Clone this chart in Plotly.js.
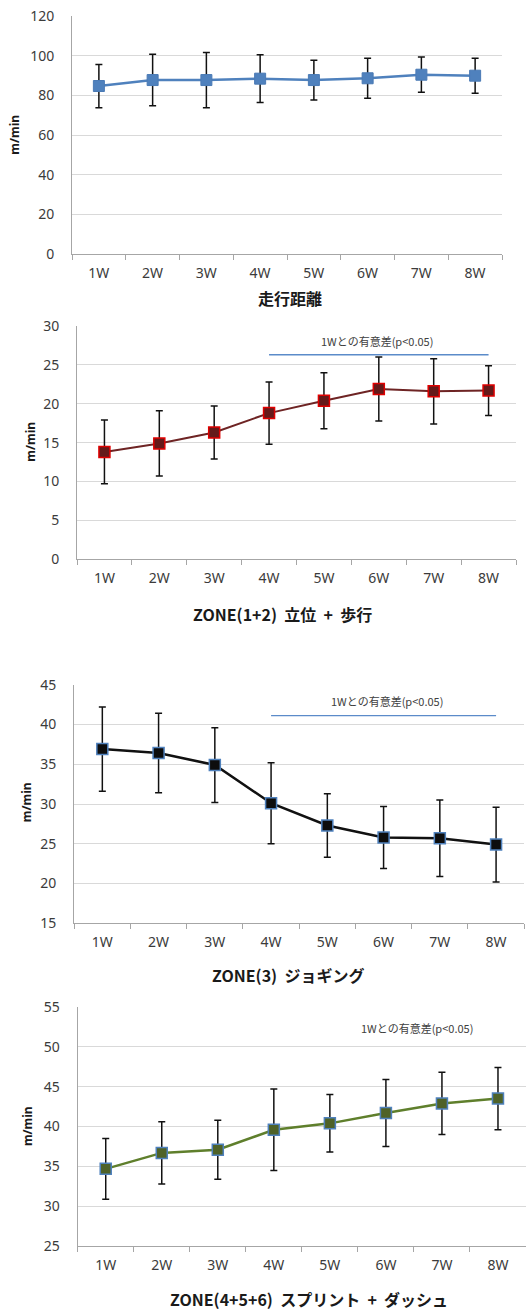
<!DOCTYPE html>
<html>
<head>
<meta charset="utf-8">
<script src="https://cdn.plot.ly/plotly-3.0.1.min.js"></script>
<style>
  html, body { margin: 0; padding: 0; background: #ffffff; }
  #chart { width: 531px; height: 1313px; }
</style>
</head>
<body>
<div id="chart"></div>
<script>
// ---------------- data ----------------
const weeks = ['1W', '2W', '3W', '4W', '5W', '6W', '7W', '8W'];

const distMean = [84.7, 87.7, 87.7, 88.4, 87.7, 88.6, 90.4, 89.9];
const distSD   = [10.9, 13.0, 13.9, 12.0, 10.0, 10.1, 8.9, 8.8];

const zone12Mean = [13.8, 14.9, 16.3, 18.8, 20.4, 21.9, 21.6, 21.7];
const zone12SD   = [4.1, 4.2, 3.4, 4.0, 3.6, 4.1, 4.2, 3.2];

const zone3Mean = [36.9, 36.4, 34.9, 30.1, 27.3, 25.8, 25.7, 24.9];
const zone3SD   = [5.3, 5.0, 4.7, 5.1, 4.0, 3.9, 4.8, 4.7];

const zone456Mean = [34.7, 36.7, 37.1, 39.6, 40.4, 41.7, 42.9, 43.5];
const zone456SD   = [3.8, 3.9, 3.7, 5.1, 3.6, 4.2, 3.9, 3.9];

const sigWeeks = ['4W', '8W'];
const sigZone12 = [26.3, 26.3];
const sigZone3 = [41.1, 41.1];
const sigLabel = '1Wとの有意差(p<0.05)';

const titles = ['走行距離', 'ZONE(1+2)  立位  +  歩行', 'ZONE(3)  ジョギング', 'ZONE(4+5+6)  スプリント  +  ダッシュ'];
const yTitle = 'm/min';

// ---------------- layout helpers ----------------
const W = 531, H = 1313;
const px = x => x / W;
const py = y => 1 - y / H;

const tickFont = { family: 'Noto Sans, Open Sans, sans-serif', size: 14, color: '#3b3b3b' };
const titleFont = { family: 'Noto Sans CJK JP, Noto Sans, sans-serif', size: 16, color: '#1a1a1a' };

function xax(l, r, anchor) {
  return {
    domain: [px(l), px(r)], anchor: anchor, type: 'category',
    range: [-0.5, 7.5], showgrid: false, zeroline: false,
    showline: true, linecolor: '#a6a6a6', linewidth: 1,
    ticks: 'outside', tickson: 'boundaries', ticklen: 5, tickcolor: '#a6a6a6', tickwidth: 1,
    ticklabelstandoff: 6, tickfont: tickFont, fixedrange: true
  };
}
function yax(top, bottom, anchor, range, dtick) {
  return {
    domain: [py(bottom), py(top)], anchor: anchor, range: range, dtick: dtick,
    showgrid: true, gridcolor: '#d9d9d9', gridwidth: 1, zeroline: false,
    showline: true, linecolor: '#a6a6a6', linewidth: 1, ticks: '',
    ticklabelstandoff: 14, tickfont: tickFont, fixedrange: true
  };
}

const errStyle = arr => ({ type: 'data', array: arr, visible: true, color: '#111111', thickness: 1.5, width: 3.5 });

const traces = [
  { x: weeks, y: distMean, xaxis: 'x', yaxis: 'y', type: 'scatter', mode: 'lines+markers',
    line: { color: '#4f81bd', width: 2.5 },
    marker: { symbol: 'square', size: 11, color: '#4f81bd', line: { color: '#4a7ab5', width: 1 } },
    error_y: errStyle(distSD) },

  { x: weeks, y: zone12Mean, xaxis: 'x2', yaxis: 'y2', type: 'scatter', mode: 'lines+markers',
    line: { color: '#6e2424', width: 2 },
    marker: { symbol: 'square', size: 11, color: '#651a1a', line: { color: '#e00000', width: 1.5 } },
    error_y: errStyle(zone12SD) },
  { x: sigWeeks, y: sigZone12, xaxis: 'x2', yaxis: 'y2', type: 'scatter', mode: 'lines',
    line: { color: '#5b8bc9', width: 1.3 }, hoverinfo: 'skip' },

  { x: weeks, y: zone3Mean, xaxis: 'x3', yaxis: 'y3', type: 'scatter', mode: 'lines+markers',
    line: { color: '#111111', width: 2.5 },
    marker: { symbol: 'square', size: 11, color: '#0d0d0d', line: { color: '#4f81bd', width: 1.5 } },
    error_y: errStyle(zone3SD) },
  { x: sigWeeks, y: sigZone3, xaxis: 'x3', yaxis: 'y3', type: 'scatter', mode: 'lines',
    line: { color: '#5b8bc9', width: 1.3 }, hoverinfo: 'skip' },

  { x: weeks, y: zone456Mean, xaxis: 'x4', yaxis: 'y4', type: 'scatter', mode: 'lines+markers',
    line: { color: '#5f7f2c', width: 2.5 },
    marker: { symbol: 'square', size: 11, color: '#4f6228', line: { color: '#4f81bd', width: 1.5 } },
    error_y: errStyle(zone456SD) }
];

const layout = {
  width: W, height: H,
  margin: { l: 0, r: 0, t: 0, b: 0 },
  paper_bgcolor: '#ffffff', plot_bgcolor: '#ffffff',
  showlegend: false,
  xaxis:  xax(72, 502, 'y'),
  yaxis:  yax(16, 254, 'x', [0, 120], 20),
  xaxis2: xax(77, 516, 'y2'),
  yaxis2: yax(326, 559.3, 'x2', [0, 30], 5),
  xaxis3: xax(74.2, 524.2, 'y3'),
  yaxis3: yax(684.7, 923.3, 'x3', [15, 45], 5),
  xaxis4: xax(77.7, 526, 'y4'),
  yaxis4: yax(1006.8, 1246.3, 'x4', [25, 55], 5),
  annotations: []
};

// x-axis titles (below each panel)
const xTitlePos = [[290, 298], [282.5, 614], [288, 975], [309, 1299]];
xTitlePos.forEach((p, i) => {
  layout.annotations.push({
    text: '<b>' + titles[i].replace(/ /g, '\u00a0') + '</b>', xref: 'paper', yref: 'paper',
    x: px(p[0]), y: py(p[1]), xanchor: 'center', yanchor: 'middle',
    showarrow: false, font: titleFont
  });
});

// y-axis titles
const yTitlePos = [[15, 134.7], [31, 441.7], [26.7, 802.5], [28.3, 1125.8]];
yTitlePos.forEach(p => {
  layout.annotations.push({
    text: '<b>' + yTitle + '</b>', xref: 'paper', yref: 'paper',
    x: px(p[0]), y: py(p[1]), xanchor: 'center', yanchor: 'middle', textangle: -90,
    showarrow: false, font: { family: 'Noto Sans, Open Sans, sans-serif', size: 12, color: '#1a1a1a' }
  });
});

// significance labels
const sigFont = { family: 'Noto Sans CJK JP, sans-serif', size: 11, color: '#404040' };
layout.annotations.push({ text: sigLabel, xref: 'x2', yref: 'y2', x: 4.96, y: 28.07, showarrow: false, font: sigFont, xanchor: 'center', yanchor: 'middle' });
layout.annotations.push({ text: sigLabel, xref: 'x3', yref: 'y3', x: 5.06, y: 43.0, showarrow: false, font: sigFont, xanchor: 'center', yanchor: 'middle' });
layout.annotations.push({ text: sigLabel, xref: 'x4', yref: 'y4', x: 5.55, y: 52.34, showarrow: false, font: sigFont, xanchor: 'center', yanchor: 'middle' });

Plotly.newPlot('chart', traces, layout, { staticPlot: true, displayModeBar: false });
</script>
</body>
</html>
